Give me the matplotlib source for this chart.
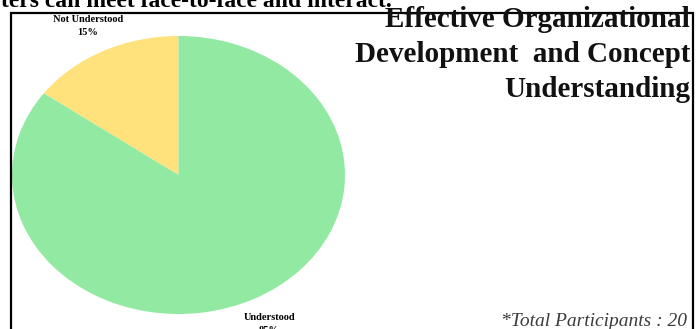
import matplotlib.pyplot as plt
from matplotlib.patches import Rectangle

# data
categories = ["Not Understood", "Understood"]
shares = [15, 85]
colors = ["#FFE27C", "#92E9A2"]
title_lines = ["Effective Organizational", "Development  and Concept", "Understanding"]
footnote = "*Total Participants : 20"
cut_caption = "ters can meet face-to-face and interact."

W, H = 696, 329
fig = plt.figure(figsize=(W / 100, H / 100), dpi=100)
fig.patch.set_facecolor("white")

serif = ["Liberation Serif", "DejaVu Serif"]

# caption line from the page above, mostly cut off at the top
fig.text(392 / W, 1 - 7 / H, cut_caption, ha="right", va="baseline",
         fontsize=17, fontweight="bold", family=serif, color="black")

# frame round the chart
fig.add_artist(Rectangle((11 / W, -0.2), (693 - 11) / W, 1.2 - 13 / H,
                         transform=fig.transFigure, fill=False,
                         edgecolor="black", linewidth=1.6))

# pie, stretched into an ellipse like the reference
ax = fig.add_axes([12 / W, 1 - 314 / H, (345 - 12) / W, (314 - 36) / H])
labels = [f"{c}\n{v}%" for c, v in zip(categories, shares)]
wedges, texts = ax.pie(
    shares,
    labels=labels,
    colors=colors,
    startangle=90,
    counterclock=True,
    labeldistance=1.2,
    wedgeprops=dict(linewidth=0),
    textprops=dict(ha="center", va="center", fontsize=7.5,
                   fontweight="bold", family=serif, linespacing=1.6),
)
ax.set_aspect("auto")
ax.set_xlim(-1, 1)
ax.set_ylim(-1, 1)
ax.axis("off")

# title block, right aligned
for i, line in enumerate(title_lines):
    fig.text(690 / W, 1 - (27 + 35 * i) / H, line, ha="right", va="baseline",
             fontsize=21, fontweight="bold", family=serif, color="#111111")

fig.text(687 / W, 1 - 326 / H, footnote, ha="right", va="baseline",
         fontsize=14, style="italic", family=serif, color="#3c3c3c")

fig.savefig("out.png", dpi=100)
